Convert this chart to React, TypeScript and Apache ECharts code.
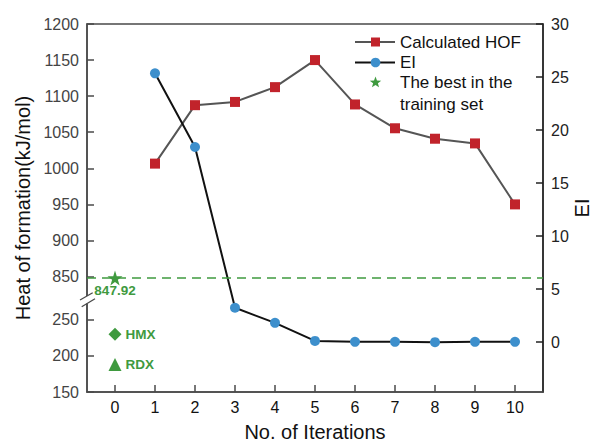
import React, { useEffect, useRef } from "react";
import * as echarts from "echarts";

// ---- data ----
const iterations = [0, 1, 2, 3, 4, 5, 6, 7, 8, 9, 10];
const hofIterations = [1, 2, 3, 4, 5, 6, 7, 8, 9, 10];
const hofValues = [1006.5, 1087.5, 1092, 1112.5, 1150, 1088.5, 1055.5, 1041, 1034.5, 950];
const eiIterations = [1, 2, 3, 4, 5, 6, 7, 8, 9, 10];
const eiValues = [25.35, 18.4, 3.24, 1.82, 0.12, 0.03, 0.03, 0.0, 0.03, 0.03];
const bestInTraining = 847.92;
const hmxValue = 230;
const rdxValue = 188;
const leftTickLabels = [150, 200, 250, 850, 900, 950, 1000, 1050, 1100, 1150, 1200];
const rightTickLabels = [0, 5, 10, 15, 20, 25, 30];

// broken axis: values below the break are shifted up by this offset
const BREAK_AT = 500;
const BREAK_OFFSET = 540;
const toDisplay = (v: number) => (v < BREAK_AT ? v + BREAK_OFFSET : v);
const fromDisplay = (v: number) => (v < 800 ? v - BREAK_OFFSET : v);

const FONT = "'Liberation Sans', Arial, sans-serif";
const GREEN = "#3f9a3f";
const RED = "#c1232b";
const BLUE = "#3d8fcc";
const AXIS = "#4a4a4a";

const STAR_PATH =
  "path://M50,0 L61.2,34.5 L97.6,34.5 L68.2,55.9 L79.4,90.5 L50,69.1 L20.6,90.5 L31.8,55.9 L2.4,34.5 L38.8,34.5 Z";

function starPoints(cx: number, cy: number, r: number): number[][] {
  const pts: number[][] = [];
  for (let i = 0; i < 10; i++) {
    const rr = i % 2 === 0 ? r : r * 0.42;
    const a = -Math.PI / 2 + (i * Math.PI) / 5;
    pts.push([cx + rr * Math.cos(a), cy + rr * Math.sin(a)]);
  }
  return pts;
}

const greenLabel = {
  color: GREEN,
  fontWeight: "bold",
  fontSize: 13.5,
  fontFamily: FONT,
};

export default function App() {
  const ref = useRef<HTMLDivElement>(null);

  useEffect(() => {
    if (!ref.current) return;
    const chart = echarts.init(ref.current, undefined, { renderer: "svg" });

    const option: any = {
      animation: false,
      backgroundColor: "#ffffff",
      textStyle: { fontFamily: FONT },
      grid: {
        left: 87,
        right: 54,
        top: 24,
        bottom: 50,
        show: true,
        borderColor: AXIS,
        borderWidth: 1.5,
        backgroundColor: "transparent",
        outerBoundsMode: "none",
        containLabel: false,
      },
      xAxis: {
        type: "value",
        min: -0.7,
        max: 10.7,
        name: "No. of Iterations",
        nameLocation: "middle",
        nameGap: 30,
        nameMoveOverlap: false,
        nameTextStyle: { fontSize: 20, color: "#111", fontFamily: FONT },
        axisLine: { onZero: false, lineStyle: { color: AXIS, width: 1.5 } },
        axisTick: {
          inside: true,
          length: 7,
          customValues: iterations,
          lineStyle: { color: AXIS, width: 1.5 },
        },
        axisLabel: {
          customValues: iterations,
          fontSize: 16,
          color: "#111",
          margin: 7,
          fontFamily: FONT,
        },
        splitLine: { show: false },
      },
      yAxis: [
        {
          type: "value",
          min: toDisplay(150),
          max: 1200,
          position: "left",
          name: "Heat of formation(kJ/mol)",
          nameLocation: "middle",
          nameGap: 54,
          nameMoveOverlap: false,
          nameTextStyle: { fontSize: 20, color: "#111", fontFamily: FONT },
          axisLine: { show: true, onZero: false, lineStyle: { color: AXIS, width: 1.5 } },
          axisTick: {
            show: true,
            inside: true,
            length: 7,
            customValues: leftTickLabels.map(toDisplay),
            lineStyle: { color: AXIS, width: 1.5 },
          },
          axisLabel: {
            customValues: leftTickLabels.map(toDisplay),
            formatter: (v: number) => String(Math.round(fromDisplay(v))),
            fontSize: 16,
            color: "#444",
            margin: 8,
            fontFamily: FONT,
          },
          splitLine: { show: false },
        },
        {
          type: "value",
          min: -4.7,
          max: 30,
          position: "right",
          name: "EI",
          nameLocation: "middle",
          nameGap: 29,
          nameRotate: 90,
          nameMoveOverlap: false,
          nameTextStyle: { fontSize: 20, color: "#111", fontFamily: FONT },
          axisLine: { show: true, onZero: false, lineStyle: { color: "#222", width: 1.5 } },
          axisTick: {
            show: true,
            inside: true,
            length: 7,
            customValues: rightTickLabels,
            lineStyle: { color: "#222", width: 1.5 },
          },
          axisLabel: {
            customValues: rightTickLabels,
            fontSize: 16,
            color: "#222",
            margin: 8,
            fontFamily: FONT,
          },
          splitLine: { show: false },
        },
      ],
      series: [
        {
          name: "Calculated HOF",
          type: "line",
          yAxisIndex: 0,
          data: hofIterations.map((x, i) => [x, toDisplay(hofValues[i])]),
          symbol: "rect",
          symbolSize: 10,
          lineStyle: { color: "#555", width: 2 },
          itemStyle: { color: RED },
          z: 3,
        },
        {
          name: "EI",
          type: "line",
          yAxisIndex: 1,
          data: eiIterations.map((x, i) => [x, eiValues[i]]),
          symbol: "circle",
          symbolSize: 10,
          lineStyle: { color: "#111", width: 2 },
          itemStyle: { color: BLUE },
          z: 4,
        },
        {
          name: "The best in the training set",
          type: "scatter",
          yAxisIndex: 0,
          data: [[0, toDisplay(bestInTraining)]],
          symbol: STAR_PATH,
          symbolSize: 15,
          itemStyle: { color: GREEN, opacity: 1 },
          label: {
            show: true,
            position: "bottom",
            distance: -2,
            formatter: () => bestInTraining.toFixed(2),
            ...greenLabel,
          },
          markLine: {
            silent: true,
            symbol: ["none", "none"],
            label: { show: false },
            lineStyle: { color: GREEN, type: [9, 6], width: 1.5, opacity: 1 },
            data: [{ yAxis: toDisplay(bestInTraining) }],
          },
          z: 5,
        },
        {
          name: "HMX",
          type: "scatter",
          yAxisIndex: 0,
          data: [[0, toDisplay(hmxValue)]],
          symbol: "diamond",
          symbolSize: 13,
          itemStyle: { color: GREEN, opacity: 1 },
          label: {
            show: true,
            position: "right",
            distance: 4,
            formatter: "HMX",
            ...greenLabel,
          },
        },
        {
          name: "RDX",
          type: "scatter",
          yAxisIndex: 0,
          data: [[0, toDisplay(rdxValue)]],
          symbol: "triangle",
          symbolSize: 13,
          itemStyle: { color: GREEN, opacity: 1 },
          label: {
            show: true,
            position: "right",
            distance: 4,
            formatter: "RDX",
            ...greenLabel,
          },
        },
      ],
      graphic: [
        // axis break
        { type: "rect", shape: { x: 83, y: 296, width: 9, height: 7.5 }, style: { fill: "#ffffff" }, z: 100 },
        { type: "line", shape: { x1: 80, y1: 300, x2: 92.7, y2: 292.7 }, style: { stroke: AXIS, lineWidth: 1.3 }, z: 101 },
        { type: "line", shape: { x1: 81.7, y1: 306.7, x2: 95, y2: 298.8 }, style: { stroke: AXIS, lineWidth: 1.3 }, z: 101 },
        // legend
        { type: "line", shape: { x1: 355, y1: 42, x2: 395, y2: 42 }, style: { stroke: "#555", lineWidth: 2 }, z: 50 },
        { type: "rect", shape: { x: 371, y: 37.5, width: 9, height: 9 }, style: { fill: RED }, z: 51 },
        {
          type: "text",
          x: 400,
          y: 42,
          style: { text: "Calculated HOF", fontSize: 17, fontFamily: FONT, fill: "#111", verticalAlign: "middle" },
          z: 50,
        },
        { type: "line", shape: { x1: 355, y1: 62.5, x2: 395, y2: 62.5 }, style: { stroke: "#111", lineWidth: 2 }, z: 50 },
        { type: "circle", shape: { cx: 375.5, cy: 62.5, r: 4.8 }, style: { fill: BLUE }, z: 51 },
        {
          type: "text",
          x: 400,
          y: 62.5,
          style: { text: "EI", fontSize: 17, fontFamily: FONT, fill: "#111", verticalAlign: "middle" },
          z: 50,
        },
        { type: "polygon", shape: { points: starPoints(375.5, 82.5, 6) }, style: { fill: GREEN }, z: 51 },
        {
          type: "text",
          x: 400,
          y: 71.5,
          style: {
            text: "The best in the\ntraining set",
            fontSize: 17,
            lineHeight: 22,
            fontFamily: FONT,
            fill: "#111",
            verticalAlign: "top",
          },
          z: 50,
        },
      ],
    };

    chart.setOption(option);
    return () => chart.dispose();
  }, []);

  return (
    <div
      ref={ref}
      style={{ position: "fixed", left: 0, top: 0, width: 597, height: 442, background: "#fff" }}
    />
  );
}
